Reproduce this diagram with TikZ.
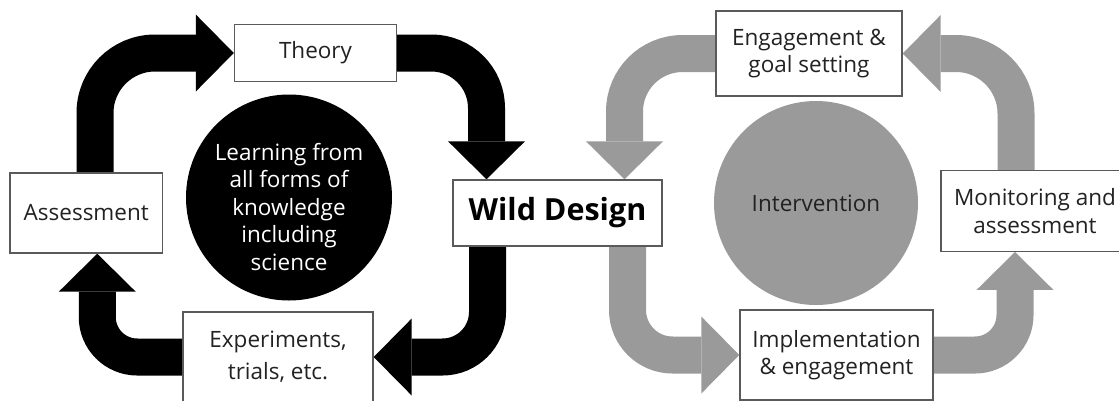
\documentclass[tikz,border=0pt]{standalone}
\usepackage{fontspec}
\setmainfont{Open Sans}
\usetikzlibrary{arrows.meta}
\pgfdeclarelayer{bg}
\pgfsetlayers{bg,main}
\definecolor{loopgrey}{HTML}{9A9A9A}
\definecolor{edgegrey}{HTML}{5A5A5A}
\definecolor{inkgrey}{HTML}{222222}
\tikzset{
  stage/.style={draw=edgegrey, line width=1.4pt, fill=white, align=center,
    inner sep=0pt, text=inkgrey, font=\fontsize{22.5}{27.5}\selectfont},
  hub/.style={circle, inner sep=0pt},
  hubtext/.style={align=center, inner sep=0pt, font=\fontsize{22.5}{27.5}\selectfont},
  flow/.style={line width=37pt, -{Triangle[length=38pt, width=77pt, line width=0pt]}},
}
\begin{document}
\begin{tikzpicture}[x=1pt, y=-1pt]
\useasboundingbox (0,0) rectangle (1119,400);
\clip (0,0) rectangle (1119,400);

% science loop (black)
\node[stage, minimum width=162pt, minimum height=57pt] (theory) at (315.5,53) {Theory};
\node[stage, minimum width=152.5pt, minimum height=80pt] (assess) at (86.25,213) {Assessment};
\node[stage, minimum width=190pt, minimum height=90pt,
      font=\fontsize{22.5}{32}\selectfont] (expt) at (278,357) {Experiments,\\trials, etc.};
\node[hub, fill=black, minimum size=206pt] (learn) at (289,197.5) {};
\node[hubtext, text=white] (learntxt) at ([yshift=-9pt]learn.center)
  {Learning from\\all forms of\\knowledge\\including\\science};

% centre
\node[stage, text=black, minimum width=209pt, minimum height=66pt,
      font=\bfseries\fontsize{30.5}{36}\selectfont] (wild) at (557.5,213) {Wild Design};

% management loop (grey)
\node[stage, minimum width=186pt, minimum height=85pt] (eng) at (809,53.5) {Engagement \&\\goal setting};
\node[stage, minimum width=188pt, minimum height=80.5pt] (monit) at (1035,211) {Monitoring and\\assessment};
\node[stage, minimum width=193pt, minimum height=90pt] (impl) at (836.5,355) {Implementation\\\& engagement};
\node[hub, fill=loopgrey, text=inkgrey, minimum size=204pt,
      font=\fontsize{22.5}{27.5}\selectfont] (interv) at (816,203) {Intervention};

\begin{pgfonlayer}{bg}
  \draw[flow, black, rounded corners=60pt] ([xshift=8.75pt]assess.north) |- (theory.west);
  \draw[flow, black, rounded corners=55pt] (theory.east) -| ([xshift=-71pt]wild.north);
  \draw[flow, black, rounded corners=45pt] ([xshift=-70pt]wild.south) |- (expt.east);
  \draw[flow, black, rounded corners=40pt] (expt.west) -| ([xshift=11pt]assess.south);

  \draw[flow, loopgrey, rounded corners=58pt] (eng.west) -| ([xshift=67pt]wild.north);
  \draw[flow, loopgrey, rounded corners=45pt] ([xshift=70pt]wild.south) |- (impl.west);
  \draw[flow, loopgrey, rounded corners=40pt] (impl.east) -| ([xshift=-20pt]monit.south);
  \draw[flow, loopgrey, rounded corners=60pt] ([xshift=-19pt]monit.north) |- (eng.east);
\end{pgfonlayer}
\end{tikzpicture}
\end{document}
